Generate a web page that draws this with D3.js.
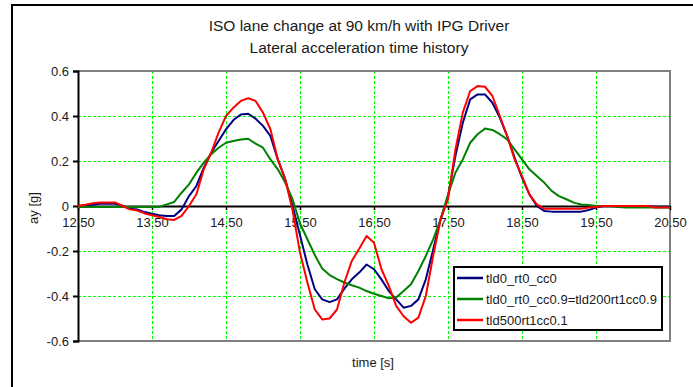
<!DOCTYPE html>
<html>
<head>
<meta charset="utf-8">
<script src="https://cdn.jsdelivr.net/npm/d3@7"></script>
<style>
  html, body { margin: 0; padding: 0; background: #fff; }
  svg { display: block; font-family: "Liberation Sans", Arial, sans-serif; }
</style>
</head>
<body>
<svg id="chart" width="693" height="387"></svg>
<script>
// Time axis sampled every 0.1 s from 12.5 s to 20.5 s
const times = d3.range(0, 81).map(i => +(12.5 + i * 0.1).toFixed(1));

// Lateral acceleration [g] for each driver model configuration
const tld0_rt0_cc0 = [
  0, 0.003, 0.006, 0.01, 0.01, 0.01, 0.002, -0.012, -0.015, -0.027,
  -0.034, -0.041, -0.044, -0.044, -0.015, 0.044, 0.089, 0.17, 0.237, 0.289,
  0.341, 0.382, 0.407, 0.41, 0.388, 0.356, 0.311, 0.207, 0.119, 0.0,
  -0.13, -0.26, -0.37, -0.415, -0.427, -0.415, -0.367, -0.326, -0.296, -0.26,
  -0.281, -0.326, -0.378, -0.415, -0.452, -0.444, -0.415, -0.326, -0.193, -0.059,
  0.044, 0.222, 0.37, 0.474, 0.496, 0.496, 0.459, 0.393, 0.311, 0.215,
  0.126, 0.052, 0, -0.022, -0.025, -0.025, -0.025, -0.025, -0.025, -0.018,
  -0.007, 0, 0, 0, 0, 0, 0, 0, -0.003, -0.003, -0.003
];
const tld0_rt0_cc09 = [
  -0.004, -0.004, -0.004, -0.004, -0.004, -0.004, -0.004, -0.004, -0.004, -0.004,
  -0.004, -0.004, 0.007, 0.018, 0.059, 0.096, 0.148, 0.193, 0.23, 0.259,
  0.281, 0.289, 0.296, 0.299, 0.277, 0.259, 0.207, 0.163, 0.104, 0.03,
  -0.078, -0.148, -0.218, -0.278, -0.307, -0.325, -0.34, -0.352, -0.363, -0.378,
  -0.39, -0.4, -0.41, -0.407, -0.378, -0.348, -0.289, -0.222, -0.148, -0.059,
  0.05, 0.148, 0.207, 0.281, 0.319, 0.344, 0.338, 0.319, 0.296, 0.252,
  0.207, 0.163, 0.133, 0.104, 0.067, 0.044, 0.03, 0.015, 0.007, 0.004,
  0, 0, 0, -0.004, -0.007, -0.007, -0.007, -0.007, -0.007, -0.007, -0.007
];
const tld500rt1cc01 = [
  0, 0.006, 0.012, 0.016, 0.016, 0.016, 0, -0.015, -0.02, -0.033,
  -0.041, -0.049, -0.059, -0.062, -0.044, 0.0, 0.052, 0.163, 0.237, 0.326,
  0.4, 0.437, 0.467, 0.479, 0.467, 0.415, 0.341, 0.207, 0.119, -0.02,
  -0.207, -0.34, -0.46, -0.504, -0.5, -0.46, -0.34, -0.244, -0.19, -0.133,
  -0.163, -0.28, -0.355, -0.444, -0.49, -0.519, -0.496, -0.4, -0.22, -0.06,
  0.03, 0.25, 0.415, 0.511, 0.533, 0.53, 0.489, 0.4, 0.311, 0.207,
  0.133, 0.052, 0.007, -0.012, -0.012, -0.012, -0.012, -0.012, -0.012, -0.007,
  -0.004, 0, 0, 0, 0, 0, 0, 0, -0.007, -0.007, -0.007
];

const seriesNames = ["tld0_rt0_cc0", "tld0_rt0_cc0.9=tld200rt1cc0.9", "tld500rt1cc0.1"];
const seriesColors = ["#000080", "#008000", "#ff0000"];
const seriesValues = [tld0_rt0_cc0, tld0_rt0_cc09, tld500rt1cc01];

const xTicks = [12.5, 13.5, 14.5, 15.5, 16.5, 17.5, 18.5, 19.5, 20.5];
const yTicks = [0.6, 0.4, 0.2, 0, -0.2, -0.4, -0.6];
const yTickLabels = ["0.6", "0.4", "0.2", "0", "-0.2", "-0.4", "-0.6"];
const xTickLabels = ["12.50", "13.50", "14.50", "15.50", "16.50", "17.50", "18.50", "19.50", "20.50"];
const titleLines = ["ISO lane change at 90 km/h with IPG Driver", "Lateral acceleration time history"];

const svg = d3.select("#chart");
const textColor = "#1a1a1a";

// outer chart frame
svg.append("rect")
  .attr("x", 12).attr("y", 5).attr("width", 700).attr("height", 400)
  .attr("fill", "none").attr("stroke", "#000").attr("stroke-width", 2);

const plot = { left: 78, right: 670, top: 71, bottom: 341 };
const x = d3.scaleLinear().domain([12.5, 20.5]).range([plot.left, plot.right]);
const y = d3.scaleLinear().domain([-0.6, 0.6]).range([plot.bottom, plot.top]);

// title
svg.append("g").selectAll("text").data(titleLines).join("text")
  .attr("x", 359).attr("y", (d, i) => 31 + i * 21.5)
  .attr("text-anchor", "middle")
  .attr("font-size", 15.5).attr("fill", textColor)
  .text(d => d);

// gridlines
const grid = svg.append("g").attr("stroke", "#00ff00").attr("stroke-width", 1)
  .attr("stroke-dasharray", "3,2");
grid.selectAll("line.v").data(xTicks.slice(1, -1)).join("line")
  .attr("x1", d => Math.round(x(d)) + 0.5).attr("x2", d => Math.round(x(d)) + 0.5)
  .attr("y1", plot.top).attr("y2", plot.bottom);
grid.selectAll("line.h").data(yTicks.filter(v => v !== 0 && Math.abs(v) < 0.6)).join("line")
  .attr("y1", d => Math.round(y(d)) + 0.5).attr("y2", d => Math.round(y(d)) + 0.5)
  .attr("x1", plot.left).attr("x2", plot.right);

// plot border (top, right, bottom)
svg.append("path")
  .attr("d", `M${plot.left},${plot.top}H${plot.right}V${plot.bottom}H${plot.left}`)
  .attr("fill", "none").attr("stroke", "#808080").attr("stroke-width", 2);

// y axis
const yAxis = svg.append("g").attr("transform", `translate(${plot.left},0)`)
  .call(d3.axisLeft(y).tickValues(yTicks).tickSize(5).tickPadding(4)
    .tickFormat((d, i) => yTickLabels[i]));
yAxis.select(".domain").attr("stroke", "#000").attr("stroke-width", 2);
yAxis.selectAll(".tick line").attr("stroke", "#000").attr("stroke-width", 2);
yAxis.selectAll("text").attr("font-size", 13).attr("fill", textColor)
  .attr("font-family", "Liberation Sans, Arial, sans-serif");

// x axis along zero
const xAxis = svg.append("g").attr("transform", `translate(0,${y(0)})`)
  .call(d3.axisBottom(x).tickValues(xTicks).tickSize(4).tickSizeOuter(0).tickPadding(8)
    .tickFormat((d, i) => xTickLabels[i]));
xAxis.select(".domain").attr("stroke", "#000").attr("stroke-width", 2);
xAxis.selectAll(".tick line").attr("stroke", "#000").attr("stroke-width", 1.5);
xAxis.selectAll("text").attr("font-size", 13).attr("fill", textColor)
  .attr("font-family", "Liberation Sans, Arial, sans-serif");

// axis titles
svg.append("text").attr("transform", "translate(38,208) rotate(-90)")
  .attr("text-anchor", "middle").attr("font-size", 13).attr("fill", textColor).text("ay [g]");
svg.append("text").attr("x", 373).attr("y", 367)
  .attr("text-anchor", "middle").attr("font-size", 13).attr("fill", textColor).text("time [s]");

// series lines
const line = d3.line().x((d, i) => x(times[i])).y(d => y(d));
svg.append("g").selectAll("path").data(seriesValues).join("path")
  .attr("d", line)
  .attr("fill", "none")
  .attr("stroke", (d, i) => seriesColors[i])
  .attr("stroke-width", 2)
  .attr("stroke-linejoin", "round");

// legend
const legend = svg.append("g");
legend.append("rect").attr("x", 454).attr("y", 267).attr("width", 208).attr("height", 63)
  .attr("fill", "#fff").attr("stroke", "#000").attr("stroke-width", 2);
const rows = legend.selectAll("g.row").data(seriesNames).join("g")
  .attr("transform", (d, i) => `translate(0,${278 + i * 21})`);
rows.append("line").attr("x1", 457).attr("x2", 483).attr("y1", 0).attr("y2", 0)
  .attr("stroke", (d, i) => seriesColors[i]).attr("stroke-width", 2.5);
rows.append("text").attr("x", 486).attr("y", 4.5).attr("font-size", 13).attr("fill", textColor)
  .text(d => d);
</script>
</body>
</html>
